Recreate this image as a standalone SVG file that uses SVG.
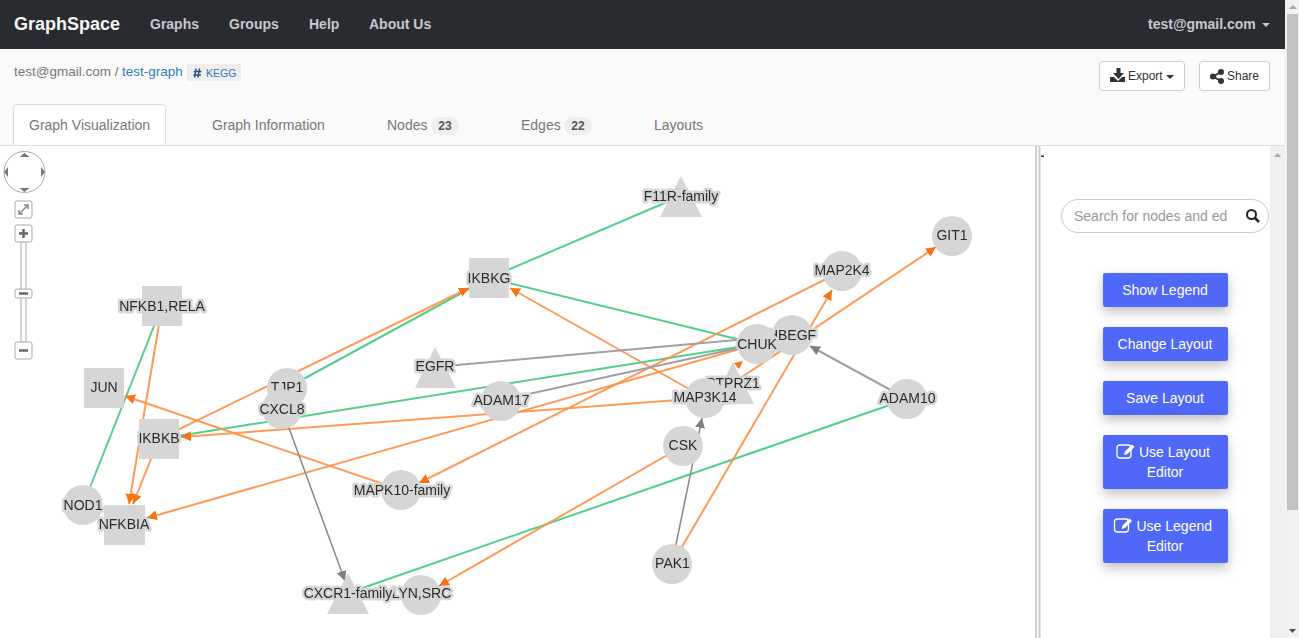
<svg xmlns="http://www.w3.org/2000/svg" width="1299" height="638" viewBox="0 0 1299 638">
<style>
text{font-family:"Liberation Sans",Arial,sans-serif}
.nav{font-size:14px;font-weight:700;fill:#c5c8cc}
.tab{font-size:14px;fill:#777}
.badge{font-size:12px;font-weight:700;fill:#555;text-anchor:middle}
.shape{fill:#d6d6d6}
.lab{font-size:14px;fill:#2a2a2a;text-anchor:middle;stroke:#d6d6d6;stroke-width:5px;stroke-linejoin:round;paint-order:stroke;opacity:.99}
.o{stroke:#ff8f45;stroke-width:2;fill:none;stroke-opacity:.9}
.g{stroke:#52d08a;stroke-width:2;fill:none}
.y{stroke:#a0a0a0;stroke-width:2;fill:none}
.d{stroke:#888;stroke-width:1.500;fill:none}
.btn{fill:#5068f8;filter:url(#sh)}
.bt{font-size:14px;fill:#fff;text-anchor:middle}
.wb{fill:#fff;stroke:#ccc}
.ctl{fill:#fff;stroke:#aaa}
.cg{fill:#777}
</style>
<defs>
<marker id="ao" markerUnits="userSpaceOnUse" markerWidth="12" markerHeight="12" refX="10" refY="5" orient="auto"><path d="M0 0L10 5L0 10Z" fill="#f97316"/></marker>
<marker id="ay" markerUnits="userSpaceOnUse" markerWidth="12" markerHeight="12" refX="10" refY="5" orient="auto"><path d="M0 0L10 5L0 10Z" fill="#808080"/></marker>
<filter id="sh" x="-30%" y="-50%" width="160%" height="220%"><feDropShadow dx="0" dy="5" stdDeviation="6" flood-color="#000" flood-opacity=".25"/></filter>
</defs>

<rect width="1299" height="638" fill="#fff"/>
<g id="navbar">
<rect width="1285" height="49" fill="#282c31"/>
<text x="14" y="30" font-size="18" font-weight="700" fill="#f5f5f5">GraphSpace</text>
<text class="nav" x="150" y="29">Graphs</text>
<text class="nav" x="229" y="29">Groups</text>
<text class="nav" x="309" y="29">Help</text>
<text class="nav" x="369" y="29">About Us</text>
<text class="nav" x="1148" y="29">test@gmail.com</text>
<path d="M1262 23h8l-4 4z" fill="#c5c8cc"/>
</g>
<g id="header">
<rect y="49" width="1285" height="96" fill="#fafafa"/>
<text x="14" y="76" font-size="13.500" fill="#777">test@gmail.com /</text>
<text x="122" y="76" font-size="13.500" fill="#337ab7">test-graph</text>
<rect x="187" y="64" width="54" height="17" fill="#eee"/>
<path d="M196 68.500l-1.500 9M199.500 68.500l-1.500 9M193.800 71.500h7.500M193.400 75h7.500" stroke="#23527c" stroke-width="1.500" fill="none"/>
<text x="206" y="77" font-size="10.500" fill="#337ab7">KEGG</text>
<rect class="wb" x="1099.500" y="61.500" width="85" height="29" rx="3"/>
<path d="M1116.500 68h4v5h3.500l-5.500 6l-5.500-6h3.500zM1110 77h4l4 4l4-4h3v5h-15z" fill="#333"/>
<text x="1128" y="80" font-size="12" fill="#333">Export</text>
<path d="M1166 75h8l-4 4z" fill="#333"/>
<rect class="wb" x="1199.500" y="61.500" width="70" height="29" rx="3"/>
<path d="M1221 72L1213 76.500L1221 81" stroke="#333" stroke-width="2" fill="none"/><circle cx="1221" cy="72" r="3" fill="#333"/><circle cx="1221" cy="81" r="3" fill="#333"/><circle cx="1213" cy="76.500" r="3" fill="#333"/>
<text x="1227" y="80" font-size="12" fill="#333">Share</text>
</g>
<g id="tabs">
<path d="M13.500 145.500V108a3.500 3.500 0 0 1 3.500-3.500H162a3.500 3.500 0 0 1 3.500 3.500V145.500Z" fill="#fff" stroke="#ddd"/>
<line x1="0" y1="145.500" x2="13" y2="145.500" stroke="#ddd"/>
<line x1="166" y1="145.500" x2="1285" y2="145.500" stroke="#ddd"/>
<text class="tab" x="29" y="130">Graph Visualization</text>
<text class="tab" x="212" y="130">Graph Information</text>
<text class="tab" x="387" y="130">Nodes</text>
<rect x="431" y="117" width="28" height="18" rx="9" fill="#eee"/>
<text class="badge" x="445" y="130">23</text>
<text class="tab" x="521" y="130">Edges</text>
<rect x="564" y="117" width="28" height="18" rx="9" fill="#eee"/>
<text class="badge" x="578" y="130">22</text>
<text class="tab" x="654" y="130">Layouts</text>
</g>
<g id="zoom-controls">
<circle class="ctl" cx="24.500" cy="172" r="20.500"/>
<path d="M24.500 153l5 4h-10zM24.500 192l5-4h-10zM4 172l4-5v10zM45 172l-4-5v10z" class="cg"/>
<rect class="ctl" x="15" y="201" width="17" height="17" rx="2"/>
<path d="M19 214l9-9M24 205h4v4M19 210v4h4" stroke="#888" stroke-width="1.500" fill="none"/>
<rect x="21" y="242" width="5" height="100" fill="#fff" stroke="#aaa"/>
<rect class="ctl" x="15" y="225" width="17" height="17" rx="2"/>
<path d="M19 233.500h9M23.500 229v9" stroke="#666" stroke-width="2.500" fill="none"/>
<rect class="ctl" x="15" y="289" width="17" height="9" rx="2"/>
<path d="M19 293.500h9" stroke="#666" stroke-width="2.500"/>
<rect class="ctl" x="15" y="342" width="17" height="17" rx="2"/>
<path d="M19 350.500h9" stroke="#666" stroke-width="2.500"/>
</g>

<g id="connectors">
<line class="g" x1="489" y1="278" x2="681" y2="196"/>
<line class="g" x1="287" y1="388" x2="489" y2="278"/>
<line class="g" x1="489" y1="278" x2="757" y2="344"/>
<line class="g" x1="162" y1="306" x2="83" y2="505"/>
<line class="g" x1="159" y1="439" x2="757" y2="344"/>
<line class="g" x1="907" y1="399" x2="348" y2="593"/>
<line class="o" x1="159" y1="439" x2="469" y2="288" marker-end="url(#ao)"/>
<line class="o" x1="162" y1="306" x2="129" y2="504" marker-end="url(#ao)"/>
<line class="o" x1="159" y1="439" x2="133" y2="504" marker-end="url(#ao)"/>
<line class="o" x1="757" y1="344" x2="147" y2="518" marker-end="url(#ao)"/>
<line class="o" x1="705" y1="398" x2="181" y2="437" marker-end="url(#ao)"/>
<line class="o" x1="401" y1="490" x2="125" y2="396" marker-end="url(#ao)"/>
<line class="o" x1="842" y1="271" x2="419" y2="483" marker-end="url(#ao)"/>
<line class="o" x1="683" y1="446" x2="439" y2="586" marker-end="url(#ao)"/>
<line class="o" x1="705" y1="398" x2="510" y2="288" marker-end="url(#ao)"/>
<line class="o" x1="672" y1="564" x2="832" y2="290" marker-end="url(#ao)"/>
<line class="o" x1="733" y1="383" x2="936" y2="247" marker-end="url(#ao)"/>
<line class="y" x1="435" y1="367" x2="792" y2="335"/>
<line class="y" x1="501" y1="400" x2="757" y2="344"/>
<line class="y" x1="907" y1="399" x2="810" y2="346" marker-end="url(#ay)"/>
<line class="d" x1="672" y1="564" x2="702" y2="418" marker-end="url(#ay)"/>
<line class="d" x1="282" y1="409" x2="345" y2="581" marker-end="url(#ay)"/>
</g>

<g id="n-ptprz1"><path class="shape" d="M733 362L754 404H712Z"/><text class="lab" x="733" y="388">PTPRZ1</text></g>
<g id="n-hbegf"><circle class="shape" cx="792" cy="335" r="20"/><text class="lab" x="792" y="340">HBEGF</text></g>
<g id="n-chuk"><circle class="shape" cx="757" cy="344" r="20"/><text class="lab" x="757" y="349">CHUK</text></g>
<g id="n-map3k14"><circle class="shape" cx="705" cy="398" r="20"/><text class="lab" x="705" y="402">MAP3K14</text></g>
<path d="M743 361l-9 2l5 6z" fill="#f97316"/>
<g id="n-f11r"><path class="shape" d="M681 176L702 217H660Z"/><text class="lab" x="681" y="201">F11R-family</text></g>
<g id="n-git1"><circle class="shape" cx="952" cy="236" r="20"/><text class="lab" x="952" y="240">GIT1</text></g>
<g id="n-map2k4"><circle class="shape" cx="842" cy="271" r="20"/><text class="lab" x="842" y="275">MAP2K4</text></g>
<g id="n-ikbkg"><rect class="shape" x="469" y="258" width="40" height="40"/><text class="lab" x="489" y="283">IKBKG</text></g>
<g id="n-nfkb1"><rect class="shape" x="142" y="286" width="40" height="40"/><text class="lab" x="162" y="311">NFKB1,RELA</text></g>
<g id="n-egfr"><path class="shape" d="M435 347L456 388H415Z"/><text class="lab" x="435" y="371">EGFR</text></g>
<g id="n-jun"><rect class="shape" x="84" y="368" width="40" height="40"/><text class="lab" x="104" y="392">JUN</text></g>
<g id="n-tjp1"><circle class="shape" cx="287" cy="388" r="20"/><text class="lab" x="287" y="392">TJP1</text></g>
<g id="n-cxcl8"><circle class="shape" cx="282" cy="409" r="20"/><text class="lab" x="282" y="414">CXCL8</text></g>
<g id="n-adam17"><circle class="shape" cx="501" cy="401" r="20"/><text class="lab" x="501.500" y="405">ADAM17</text></g>
<g id="n-adam10"><circle class="shape" cx="907" cy="399" r="20"/><text class="lab" x="907.500" y="403">ADAM10</text></g>
<g id="n-csk"><circle class="shape" cx="683" cy="446" r="20"/><text class="lab" x="683" y="450">CSK</text></g>
<g id="n-ikbkb"><rect class="shape" x="139" y="419" width="40" height="40"/><text class="lab" x="159" y="443">IKBKB</text></g>
<g id="n-mapk10"><circle class="shape" cx="401" cy="490" r="20"/><text class="lab" x="402" y="495">MAPK10-family</text></g>
<g id="n-nod1"><circle class="shape" cx="83" cy="505" r="20"/><text class="lab" x="83" y="510">NOD1</text></g>
<g id="n-nfkbia"><rect class="shape" x="104" y="505" width="41" height="40"/><text class="lab" x="124" y="529">NFKBIA</text></g>
<g id="n-pak1"><circle class="shape" cx="672" cy="564" r="20"/><text class="lab" x="672.500" y="568">PAK1</text></g>
<g id="n-lyn"><circle class="shape" cx="421" cy="595" r="20"/><text class="lab" x="421.500" y="598">LYN,SRC</text></g>
<g id="n-cxcr1"><path class="shape" d="M348 573L369 614H327Z"/><text class="lab" x="348" y="598">CXCR1-family</text></g>

<g id="side-panel">
<rect x="1035" y="146" width="2" height="492" fill="#ccc"/>
<rect x="1038.500" y="146" width="2" height="492" fill="#ccc"/>
<rect x="1041" y="155.500" width="3" height="1.500" fill="#333"/>
<rect x="1270" y="146" width="15" height="492" fill="#f0f0f0"/>
<path d="M1274 157l3.500-4l3.500 4z" fill="#aaa"/>
<rect x="1061.500" y="199.500" width="207" height="33" rx="16.500" fill="#fff" stroke="#ccc"/>
<text x="1074" y="221" font-size="14" fill="#999">Search for nodes and ed</text>
<circle cx="1251.500" cy="214.500" r="4.500" fill="none" stroke="#222" stroke-width="2"/>
<path d="M1255 218l4 4" stroke="#222" stroke-width="2.500"/>
<rect class="btn" x="1103" y="273" width="125" height="34" rx="2"/><text class="bt" x="1165" y="295">Show Legend</text>
<rect class="btn" x="1103" y="327" width="125" height="34" rx="2"/><text class="bt" x="1165" y="349">Change Layout</text>
<rect class="btn" x="1103" y="381" width="125" height="34" rx="2"/><text class="bt" x="1165" y="403">Save Layout</text>
<rect class="btn" x="1103" y="435" width="125" height="54" rx="2"/>
<rect x="1117" y="445" width="14" height="13" rx="3" fill="none" stroke="#fff" stroke-width="1.300"/>
<path d="M1124 455l1-3.500l7-7l2.500 2.500l-7 7z" fill="#fff"/>
<text class="bt" x="1139" y="457" style="text-anchor:start">Use Layout</text>
<text class="bt" x="1165" y="477">Editor</text>
<rect class="btn" x="1103" y="509" width="125" height="54" rx="2"/>
<rect x="1114.500" y="519" width="14" height="13" rx="3" fill="none" stroke="#fff" stroke-width="1.300"/>
<path d="M1121.500 529l1-3.500l7-7l2.500 2.500l-7 7z" fill="#fff"/>
<text class="bt" x="1136.500" y="531" style="text-anchor:start">Use Legend</text>
<text class="bt" x="1165" y="551">Editor</text>
</g>
<g id="scrollbar">
<rect x="1285" y="0" width="14" height="638" fill="#f1f1f1"/>
<rect x="1287" y="14" width="11" height="496" fill="#c1c1c1"/>
<path d="M1289 9l4-4l4 4z" fill="#a3a3a3"/>
<path d="M1289 629l3.500 4l3.500-4z" fill="#505050"/>
</g>
</svg>
